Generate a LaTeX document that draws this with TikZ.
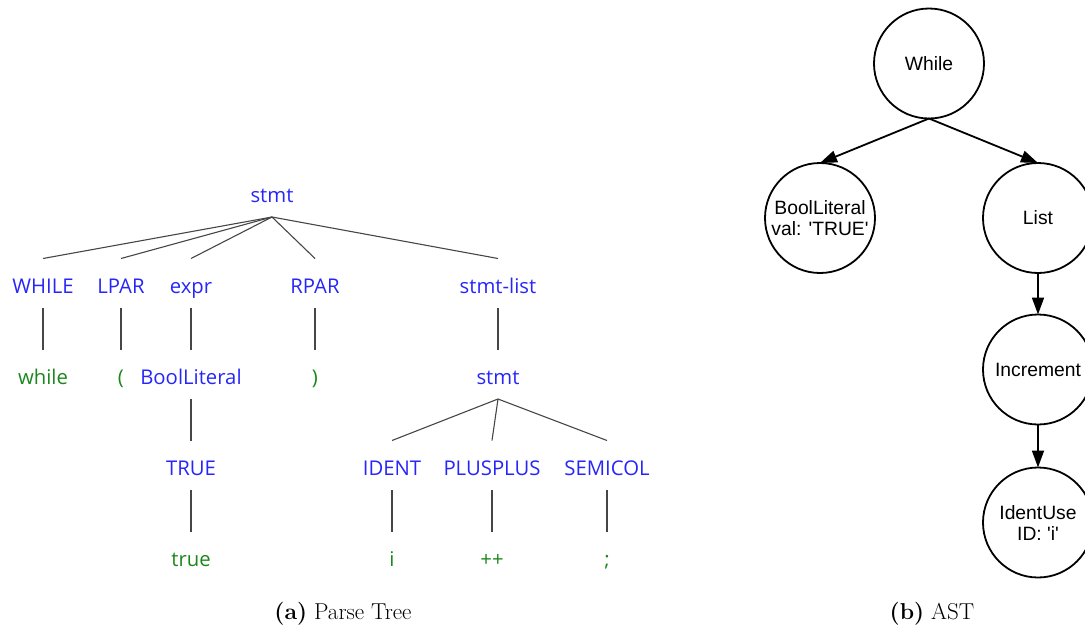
\documentclass[tikz,border=0pt]{standalone}
\usepackage{fontspec}
\newfontfamily\treefont{Open Sans}
\newfontfamily\astfont{Liberation Sans}
\usetikzlibrary{arrows.meta}
\definecolor{ntblue}{RGB}{38,38,250}
\definecolor{tmgreen}{RGB}{28,135,28}
\definecolor{edgegray}{RGB}{70,70,70}
\begin{document}
\begin{tikzpicture}[x=1pt,y=-1pt,
  tn/.style={font=\treefont\fontsize{20.3}{24}\selectfont, inner sep=0pt, outer sep=0pt, text height=34.5pt, text depth=15pt, anchor=base},
  nt/.style={tn, text=ntblue},
  tm/.style={tn, text=tmgreen},
  edge/.style={draw=edgegray, line width=1.1pt},
  astnode/.style={circle, draw, line width=1.8pt, minimum size=110pt, inner sep=0pt, outer sep=0pt, align=center, font=\astfont\fontsize{19.3}{21}\selectfont},
  astarrow/.style={line width=1.8pt, -{Triangle[length=17pt,width=12pt]}},
  captxt/.style={font=\fontsize{23}{26}\selectfont, inner sep=0pt}
]
\path[use as bounding box] (0,0) rectangle (1085,630);

% Parse tree
\node[nt] (root) at (272,202) {stmt};
\node[nt] (while) at (43,293) {WHILE};
\node[nt] (lpar) at (121,293) {LPAR};
\node[nt] (expr) at (191,293) {expr};
\node[nt] (rpar) at (315,293) {RPAR};
\node[nt] (slist) at (498,293) {stmt-list};
\node[tm] (kwwhile) at (43,384) {while};
\node[tm] (lp) at (121,384) {(};
\node[nt] (bool) at (191,384) {BoolLiteral};
\node[tm] (rp) at (315,384) {)};
\node[nt] (stmt2) at (498,384) {stmt};
\node[nt] (TRUE) at (191,475) {TRUE};
\node[nt] (ident) at (392,475) {IDENT};
\node[nt] (pp) at (492,475) {PLUSPLUS};
\node[nt] (semi) at (607,475) {SEMICOL};
\node[tm] (true) at (191,566) {true};
\node[tm] (ivar) at (392,566) {i};
\node[tm] (ppt) at (492,566) {++};
\node[tm] (sc) at (607,566) {;};

\foreach \c in {while,lpar,expr,rpar,slist}
  \draw[edge] (root.south) -- (\c.north);
\draw[edge] (while.south) -- (kwwhile.north);
\draw[edge] (lpar.south) -- (lp.north);
\draw[edge] (expr.south) -- (bool.north);
\draw[edge] (rpar.south) -- (rp.north);
\draw[edge] (slist.south) -- (stmt2.north);
\draw[edge] (bool.south) -- (TRUE.north);
\draw[edge] (TRUE.south) -- (true.north);
\foreach \c in {ident,pp,semi}
  \draw[edge] (stmt2.south) -- (\c.north);
\draw[edge] (ident.south) -- (ivar.north);
\draw[edge] (pp.south) -- (ppt.north);
\draw[edge] (semi.south) -- (sc.north);

% AST
\node[astnode] (While) at (929,63.5) {While};
\node[astnode] (BL) at (820,218) {BoolLiteral\\val: \textquotesingle TRUE\textquotesingle};
\node[astnode] (List) at (1038,218) {List};
\node[astnode] (Inc) at (1038,369.5) {Increment};
\node[astnode] (IU) at (1038,522.5) {IdentUse\\ID: \textquotesingle i\textquotesingle};
\draw[astarrow] (While.south) -- (BL.north);
\draw[astarrow] (While.south) -- (List.north);
\draw[astarrow] (List.south) -- (Inc.north);
\draw[astarrow] (Inc.south) -- (IU.north);

% captions
\node[captxt] (capa) at (343,614) {\textbf{(a)} Parse Tree};
\node[captxt] (capb) at (932,614) {\textbf{(b)} AST};
\end{tikzpicture}
\end{document}
